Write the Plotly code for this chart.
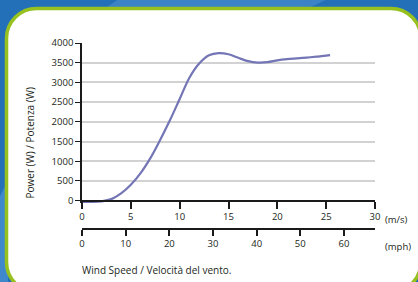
import plotly.graph_objects as go

# ---- data ----
speed_ms = [0, 1, 2, 3, 4, 5, 6, 7, 8, 9, 10, 11, 12, 13, 14, 15, 16, 17, 18, 19,
            20, 21, 22, 23, 24, 25, 25.4]
power_w = [-30, -30, -15, 40, 185, 405, 700, 1080, 1540, 2040, 2580, 3120, 3480,
           3690, 3745, 3715, 3625, 3540, 3505, 3515, 3560, 3590, 3610, 3630, 3655,
           3680, 3695]
y_ticks = [0, 500, 1000, 1500, 2000, 2500, 3000, 3500, 4000]
ms_ticks = [0, 5, 10, 15, 20, 25, 30]
mph_ticks = [0, 10, 20, 30, 40, 50, 60]
MS_PER_MPH = 0.44704

W, H = 418, 282
L, R, T, B = 82, 43, 43, 53
pw, ph = W - L - R, H - T - B


def px(x):
    return (x - L) / pw


def py(y):
    return (H - B - y) / ph


FONT = "Open Sans"
TXT = "#231f20"

fig = go.Figure()
fig.add_trace(go.Scatter(
    x=speed_ms, y=power_w, mode="lines",
    line=dict(color="#7375b5", width=2.2, shape="spline", smoothing=1.0),
    xaxis="x", yaxis="y", hoverinfo="skip", showlegend=False))
# invisible trace for mph axis
fig.add_trace(go.Scatter(x=[0], y=[0], mode="markers", marker=dict(opacity=0),
                         xaxis="x2", yaxis="y", showlegend=False, hoverinfo="skip"))

# rounded white panel with green border
x0, x1, y0, y1, r = 6.5, 421, 8.5, 292, 30
k = 0.5523 * r


def P(x, y):
    return f"{px(x):.5f},{py(y):.5f}"


path = (f"M {P(x0 + r, y0)} L {P(x1 - r, y0)} "
        f"C {P(x1 - r + k, y0)} {P(x1, y0 + r - k)} {P(x1, y0 + r)} "
        f"L {P(x1, y1 - r)} "
        f"C {P(x1, y1 - r + k)} {P(x1 - r + k, y1)} {P(x1 - r, y1)} "
        f"L {P(x0 + r, y1)} "
        f"C {P(x0 + r - k, y1)} {P(x0, y1 - r + k)} {P(x0, y1 - r)} "
        f"L {P(x0, y0 + r)} "
        f"C {P(x0, y0 + r - k)} {P(x0 + r - k, y0)} {P(x0 + r, y0)} Z")

shapes = [
    dict(type="path", xref="paper", yref="paper",
         path=f"M {P(120, -2)} L {P(330, -2)} L {P(300, 12)} L {P(100, 12)} Z",
         fillcolor="#3b82c6", line=dict(width=0), layer="below"),
    dict(type="path", xref="paper", yref="paper",
         path=f"M {P(-2, 200)} L {P(8, 180)} L {P(8, 290)} L {P(-2, 290)} Z",
         fillcolor="#3f88cb", line=dict(width=0), layer="below"),
    dict(type="path", xref="paper", yref="paper", path=path,
         fillcolor="white", line=dict(color="#96c11f", width=3.5), layer="below"),
]

y_lo, y_hi = -60, 4000
bottom_px = 200.7 + (0 - y_lo) * (157.7 / 4000)
dom0 = (H - B - bottom_px) / ph
pos_ms = (H - B - 200.7) / ph

fig.update_layout(
    width=W, height=H,
    margin=dict(l=L, r=R, t=T, b=B, pad=0),
    paper_bgcolor="#2470b8",
    plot_bgcolor="rgba(0,0,0,0)",
    font=dict(family=FONT, size=9.5, color=TXT),
    shapes=shapes,
    xaxis=dict(range=[0, 30], tickvals=ms_ticks, anchor="free", position=pos_ms,
               showline=True, linecolor="#1a1a1a", linewidth=2,
               ticks="outside", ticklen=7, tickwidth=1.5, tickcolor="#1a1a1a",
               showgrid=False, zeroline=False,
               tickfont=dict(family=FONT, size=9.5, color=TXT)),
    xaxis2=dict(range=[0, 30 / MS_PER_MPH], tickvals=mph_ticks, overlaying="x",
                anchor="free", position=0, side="bottom",
                showline=True, linecolor="#1a1a1a", linewidth=2,
                ticks="outside", ticklen=6, tickwidth=1.5, tickcolor="#1a1a1a",
                showgrid=False, zeroline=False,
                tickfont=dict(family=FONT, size=9.5, color=TXT)),
    yaxis=dict(range=[y_lo, y_hi + 1], domain=[dom0, 1], tickvals=y_ticks,
               showline=True, linecolor="#1a1a1a", linewidth=1.5,
               ticks="outside", ticklen=5, tickwidth=1.2, tickcolor="#1a1a1a",
               showgrid=True, gridcolor="#d2d2d2", gridwidth=2, zeroline=False,
               tickfont=dict(family=FONT, size=9.5, color=TXT)),
    annotations=[
        dict(text="(m/s)", xref="paper", yref="paper", x=px(383), y=py(219),
             xanchor="left", yanchor="middle", showarrow=False,
             font=dict(family=FONT, size=9.5, color=TXT)),
        dict(text="(mph)", xref="paper", yref="paper", x=px(383), y=py(246.5),
             xanchor="left", yanchor="middle", showarrow=False,
             font=dict(family=FONT, size=9.5, color=TXT)),
        dict(text="Wind Speed / Velocità del vento.", xref="paper", yref="paper",
             x=px(80), y=py(270), xanchor="left", yanchor="middle", showarrow=False,
             font=dict(family=FONT, size=10, color=TXT)),
        dict(text="Power (W) / Potenza (W)", xref="paper", yref="paper",
             x=px(29), y=py(143.5), xanchor="center", yanchor="middle",
             textangle=-90, showarrow=False,
             font=dict(family=FONT, size=10, color=TXT)),
    ],
)

fig.write_html("out.html", config={"displayModeBar": False},
               post_script="document.body.style.margin='0';"
                           "document.body.style.overflow='hidden';")
